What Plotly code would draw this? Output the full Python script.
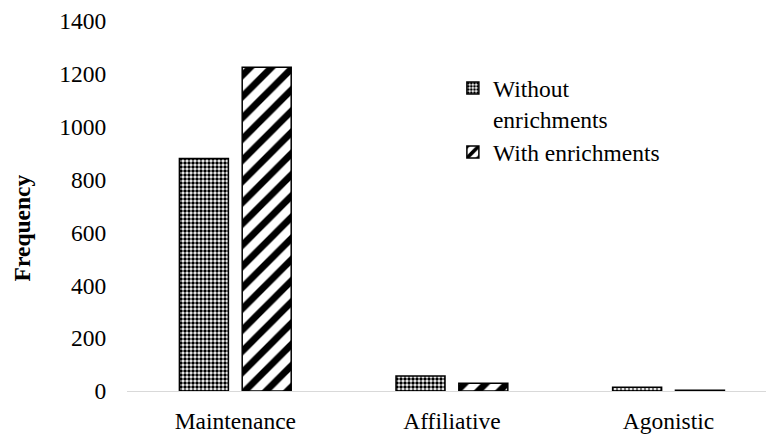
import plotly.graph_objects as go

categories = ["Maintenance", "Affiliative", "Agonistic"]
without_enrichments = [880, 57, 14]
with_enrichments = [1225, 29, 3]
y_ticks = [0, 200, 400, 600, 800, 1000, 1200, 1400]

FONT = "Liberation Serif"
SIZE = 23.5

fig = go.Figure()
fig.add_trace(go.Bar(
    x=categories, y=without_enrichments,
    name="Without<br>enrichments",
    marker=dict(color="white", line=dict(color="black", width=1.5),
                pattern=dict(shape=".", size=4, solidity=0.6,
                             fgcolor="black", bgcolor="white",
                             fgopacity=1)),
))
fig.add_trace(go.Bar(
    x=categories, y=with_enrichments,
    name="With enrichments",
    marker=dict(color="white", line=dict(color="black", width=1.5),
                pattern=dict(shape="/", size=15, solidity=0.45,
                             fgcolor="black", bgcolor="white",
                             fgopacity=1)),
))

# Rotated axis label, sitting a little below the middle of the axis
fig.add_annotation(
    text="<b>Frequency</b>", textangle=-90, showarrow=False,
    xref="paper", yref="paper", x=-0.164, y=0.44,
    xanchor="center", yanchor="middle",
    font=dict(family=FONT, size=SIZE, color="black"),
)

fig.update_layout(
    width=766, height=436,
    margin=dict(l=127, r=0, t=21, b=45),
    paper_bgcolor="white", plot_bgcolor="white",
    barmode="group", bargap=0.42, bargroupgap=0.22,
    font=dict(family=FONT, size=SIZE, color="black"),
    showlegend=True,
    legend=dict(x=0.51, y=0.878, xanchor="left", yanchor="top",
                bgcolor="rgba(0,0,0,0)", itemwidth=30, valign="top",
                tracegroupgap=10,
                font=dict(family=FONT, size=SIZE, color="black")),
    xaxis=dict(range=[-0.5, 2.45], showline=True, linecolor="#d9d9d9",
               linewidth=1, ticks="outside", ticklen=9,
               tickcolor="rgba(0,0,0,0)", showgrid=False,
               tickfont=dict(family=FONT, size=SIZE, color="black")),
    yaxis=dict(range=[0, 1400], tickvals=y_ticks, showgrid=False,
               zeroline=False, showline=False, ticks="outside",
               ticklen=15, tickcolor="rgba(0,0,0,0)",
               tickfont=dict(family=FONT, size=SIZE, color="black")),
)

fig.write_html("out.html")
